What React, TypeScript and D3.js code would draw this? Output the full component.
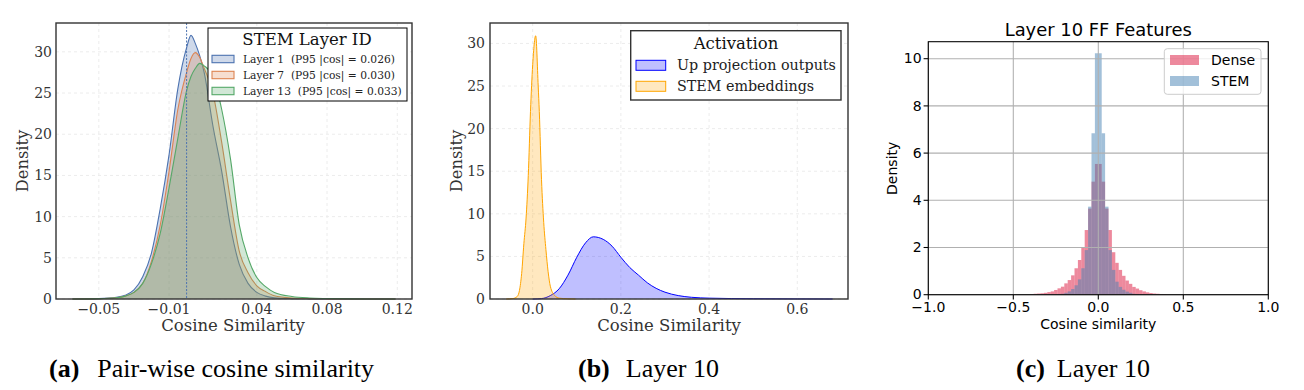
import * as d3 from 'd3';

// ---- (a) pair-wise cosine similarity, one KDE per STEM layer ----
const A_GRID = [-0.065, -0.05, -0.04, -0.035, -0.03, -0.025, -0.02, -0.015, -0.01, -0.005, 0, 0.0025, 0.005, 0.0075, 0.01, 0.015, 0.02, 0.025, 0.03, 0.035, 0.04, 0.045, 0.05, 0.06, 0.07, 0.08, 0.095, 0.119];
const A_LAYER1 = [0, 0.05, 0.2, 0.45, 1.1, 2.7, 5.6, 11, 17.5, 25.5, 30.5, 32, 31, 29.5, 27.5, 21, 15.5, 8.8, 4.2, 1.9, 0.8, 0.35, 0.15, 0.05, 0.02, 0.01, 0.005, 0];
const A_LAYER7 = [0, 0.04, 0.15, 0.35, 0.8, 1.9, 4.6, 9, 15.5, 23, 27.5, 29.2, 29.9, 29.3, 28, 25, 19, 12, 5.8, 3.2, 1.6, 0.9, 0.4, 0.12, 0.05, 0.02, 0, 0];
const A_LAYER13 = [0, 0.04, 0.15, 0.35, 0.8, 1.9, 4.3, 8, 13.5, 19.5, 25.3, 27, 28, 28.6, 28.3, 27, 23, 17, 9, 5, 2.6, 1.5, 0.8, 0.3, 0.12, 0.06, 0.02, 0];
const A_LABELS = ['Layer 1  (P95 |cos| = 0.026)', 'Layer 7  (P95 |cos| = 0.030)', 'Layer 13  (P95 |cos| = 0.033)'];
const A_COLORS = ['#4c72b0', '#dd8452', '#55a868'];
const A_XTICKS = [-0.05, -0.01, 0.04, 0.08, 0.12];
const A_YTICKS = [0, 5, 10, 15, 20, 25, 30];

// ---- (b) layer 10 activations ----
const B_UP_X = [0, 0.02, 0.04, 0.06, 0.08, 0.1, 0.12, 0.1375, 0.16, 0.18, 0.2, 0.22, 0.24, 0.26, 0.28, 0.3, 0.33, 0.36, 0.4, 0.5, 0.6, 0.68];
const B_UP = [0, 0.05, 0.4, 1.2, 2.8, 4.9, 6.6, 7.3, 7.0, 6.2, 4.9, 3.7, 2.8, 1.9, 1.25, 0.8, 0.4, 0.2, 0.1, 0.03, 0.01, 0];
const B_STEM_X = [-0.06, -0.045, -0.035, -0.03, -0.025, -0.02, -0.015, -0.01, -0.005, 0, 0.0068, 0.0125, 0.015, 0.02, 0.025, 0.03, 0.035, 0.04, 0.05, 0.06, 0.08, 0.097];
const B_STEM = [0, 0.05, 0.3, 1.0, 3.0, 6.5, 9.5, 14.5, 22, 27.5, 30.9, 25, 22, 14, 9, 5.8, 3.2, 1.5, 0.4, 0.1, 0.02, 0];
const B_XTICKS = [0, 0.2, 0.4, 0.6];
const B_YTICKS = [0, 5, 10, 15, 20, 25, 30];

// ---- (c) layer 10 FF feature histograms (bins of 0.02 from -0.4) ----
const C_BIN_START = -0.4;
const C_BIN_WIDTH = 0.02;
const C_DENSE = [0.03, 0.04, 0.05, 0.06, 0.08, 0.11, 0.14, 0.2, 0.27, 0.34, 0.48, 0.62, 0.82, 1.12, 1.47, 1.99, 2.74, 3.65, 4.79, 5.54,
  5.54, 4.79, 3.65, 2.74, 1.8, 1.35, 1.05, 0.8, 0.6, 0.46, 0.33, 0.26, 0.19, 0.14, 0.1, 0.07, 0.05, 0.04, 0.03, 0.02];
const C_STEM = [0, 0, 0, 0, 0, 0, 0, 0, 0.02, 0.04, 0.08, 0.14, 0.24, 0.4, 0.65, 1.12, 1.89, 3.73, 6.84, 10.23,
  10.23, 6.84, 3.73, 1.89, 1.05, 0.55, 0.33, 0.21, 0.13, 0.08, 0.04, 0.02, 0, 0, 0, 0, 0, 0, 0, 0];
const C_XTICKS = [-1, -0.5, 0, 0.5, 1];
const C_YTICKS = [0, 2, 4, 6, 8, 10];

const SERIF = "'DejaVu Serif', serif";
const SANS = "'DejaVu Sans', sans-serif";
const CAPTION = "'Liberation Serif', serif";
const INK = '#333';
const GRID = '#ececec';

const fmtMinus = (s: string) => s.replace('-', '\u2212');

const PanelA = () => {
  const box = { l: 56, r: 412, t: 23, b: 299 };
  const x = d3.scaleLinear().domain([-0.0744, 0.1284]).range([box.l, box.r]);
  const y = d3.scaleLinear().domain([0, 33.5]).range([box.b, box.t]);
  const series = [A_LAYER1, A_LAYER7, A_LAYER13];
  const area = d3.area<number>().x((_, i) => x(A_GRID[i])).y0(y(0)).y1(d => y(d)).curve(d3.curveMonotoneX);
  const line = d3.line<number>().x((_, i) => x(A_GRID[i])).y(d => y(d)).curve(d3.curveMonotoneX);
  return (
    <g>
      {A_XTICKS.map(t => (
        <line key={'gx' + t} x1={x(t)} x2={x(t)} y1={box.t} y2={box.b} stroke={GRID} strokeDasharray="3,3" />
      ))}
      {A_YTICKS.map(t => (
        <line key={'gy' + t} x1={box.l} x2={box.r} y1={y(t)} y2={y(t)} stroke={GRID} strokeDasharray="3,3" />
      ))}
      {series.map((s, i) => (
        <g key={i}>
          <path d={area(s) || ''} fill={A_COLORS[i]} fillOpacity={0.27} />
          <path d={line(s) || ''} fill="none" stroke={A_COLORS[i]} strokeWidth={1.1} />
        </g>
      ))}
      <line x1={x(0)} x2={x(0)} y1={box.t} y2={box.b} stroke="#4c72b0" strokeDasharray="2,1.5" strokeWidth={1} />
      <rect x={box.l} y={box.t} width={box.r - box.l} height={box.b - box.t} fill="none" stroke={INK} strokeWidth={1.4} />
      {A_YTICKS.map(t => (
        <text key={'ty' + t} x={52} y={y(t)} dy="0.36em" textAnchor="end" fontFamily={SERIF} fontSize={14} fill={INK}>{t}</text>
      ))}
      {A_XTICKS.map(t => (
        <text key={'tx' + t} x={x(t)} y={313.5} textAnchor="middle" fontFamily={SERIF} fontSize={14} fill={INK}>{fmtMinus(t.toFixed(2))}</text>
      ))}
      <text x={233} y={331} textAnchor="middle" fontFamily={SERIF} fontSize={16.5} fill={INK}>Cosine Similarity</text>
      <text transform="translate(28,161) rotate(-90)" textAnchor="middle" fontFamily={SERIF} fontSize={16.3} fill={INK}>Density</text>
      <g>
        <rect x={208} y={28} width={199} height={73} fill="#fff" stroke="#000" strokeWidth={1} />
        <text x={307} y={45} textAnchor="middle" fontFamily={SERIF} fontSize={16.5} fill="#111">STEM Layer ID</text>
        {A_LABELS.map((lab, i) => (
          <g key={lab}>
            <rect x={212} y={59 + i * 16 - 3.7} width={22} height={7.4} fill={A_COLORS[i]} fillOpacity={0.27} stroke={A_COLORS[i]} strokeWidth={1.1} />
            <text x={243} y={59 + i * 16} dy="0.36em" fontFamily={SERIF} fontSize={10.7} fill="#222" style={{ whiteSpace: 'pre' }}>{lab}</text>
          </g>
        ))}
      </g>
    </g>
  );
};

const PanelB = () => {
  const box = { l: 490, r: 848, t: 23, b: 299 };
  const x = d3.scaleLinear().domain([-0.0968, 0.715]).range([box.l, box.r]);
  const y = d3.scaleLinear().domain([0, 32.4]).range([box.b, box.t]);
  const mk = (xs: number[]) => ({
    area: d3.area<number>().x((_, i) => x(xs[i])).y0(y(0)).y1(d => y(d)).curve(d3.curveMonotoneX),
    line: d3.line<number>().x((_, i) => x(xs[i])).y(d => y(d)).curve(d3.curveMonotoneX),
  });
  const up = mk(B_UP_X);
  const st = mk(B_STEM_X);
  return (
    <g>
      {B_XTICKS.map(t => (
        <line key={'gx' + t} x1={x(t)} x2={x(t)} y1={box.t} y2={box.b} stroke={GRID} strokeDasharray="3,3" />
      ))}
      {B_YTICKS.map(t => (
        <line key={'gy' + t} x1={box.l} x2={box.r} y1={y(t)} y2={y(t)} stroke={GRID} strokeDasharray="3,3" />
      ))}
      <path d={up.area(B_UP) || ''} fill="#0000ff" fillOpacity={0.25} />
      <path d={up.line(B_UP) || ''} fill="none" stroke="#0000ff" strokeWidth={1} />
      <path d={st.area(B_STEM) || ''} fill="#ffa500" fillOpacity={0.25} />
      <path d={st.line(B_STEM) || ''} fill="none" stroke="#ffa500" strokeWidth={1} />
      <rect x={box.l} y={box.t} width={box.r - box.l} height={box.b - box.t} fill="none" stroke={INK} strokeWidth={1.4} />
      {B_YTICKS.map(t => (
        <text key={'ty' + t} x={485} y={y(t)} dy="0.36em" textAnchor="end" fontFamily={SERIF} fontSize={14} fill={INK}>{t}</text>
      ))}
      {B_XTICKS.map(t => (
        <text key={'tx' + t} x={x(t)} y={313.5} textAnchor="middle" fontFamily={SERIF} fontSize={14} fill={INK}>{t.toFixed(1)}</text>
      ))}
      <text x={669} y={331} textAnchor="middle" fontFamily={SERIF} fontSize={16.5} fill={INK}>Cosine Similarity</text>
      <text transform="translate(462,161) rotate(-90)" textAnchor="middle" fontFamily={SERIF} fontSize={16.3} fill={INK}>Density</text>
      <g>
        <rect x={630.7} y={30.7} width={210.3} height={69.3} fill="#fff" stroke={INK} strokeWidth={1.4} />
        <text x={736} y={48.5} textAnchor="middle" fontFamily={SERIF} fontSize={16.5} fill="#111">Activation</text>
        <rect x={636} y={60.3} width={29.7} height={10} fill="#0000ff" fillOpacity={0.25} stroke="#0000ff" strokeWidth={1} />
        <text x={677} y={65.3} dy="0.36em" fontFamily={SERIF} fontSize={14.3} fill="#222">Up projection outputs</text>
        <rect x={636} y={81.3} width={29.7} height={10} fill="#ffa500" fillOpacity={0.25} stroke="#ffa500" strokeWidth={1} />
        <text x={677} y={86.3} dy="0.36em" fontFamily={SERIF} fontSize={14.3} fill="#222">STEM embeddings</text>
      </g>
    </g>
  );
};

const PanelC = () => {
  const box = { l: 928.3, r: 1268.3, t: 41.7, b: 294.7 };
  const x = d3.scaleLinear().domain([-1, 1]).range([box.l, box.r]);
  const y = d3.scaleLinear().domain([0, 10.72]).range([box.b, box.t]);
  const bars = (vals: number[], color: string, key: string) =>
    vals.map((v, i) => {
      const x0 = C_BIN_START + i * C_BIN_WIDTH;
      if (v <= 0) return null;
      return (
        <rect key={key + i} x={x(x0)} y={y(v)} width={x(x0 + C_BIN_WIDTH) - x(x0)} height={y(0) - y(v)} fill={color} fillOpacity={0.5} />
      );
    });
  return (
    <g>
      {bars(C_DENSE, 'crimson', 'd')}
      {bars(C_STEM, 'steelblue', 's')}
      {C_XTICKS.map(t => (
        <line key={'gx' + t} x1={x(t)} x2={x(t)} y1={box.t} y2={box.b} stroke="#b0b0b0" strokeWidth={1.07} />
      ))}
      {C_YTICKS.map(t => (
        <line key={'gy' + t} x1={box.l} x2={box.r} y1={y(t)} y2={y(t)} stroke="#b0b0b0" strokeWidth={1.07} />
      ))}
      <rect x={box.l} y={box.t} width={box.r - box.l} height={box.b - box.t} fill="none" stroke="#000" strokeWidth={1.07} />
      {C_XTICKS.map(t => (
        <g key={'tx' + t}>
          <line x1={x(t)} x2={x(t)} y1={box.b} y2={box.b + 4.7} stroke="#000" strokeWidth={1.07} />
          <text x={x(t)} y={312} textAnchor="middle" fontFamily={SANS} fontSize={14} fill="#000">{fmtMinus(t.toFixed(1))}</text>
        </g>
      ))}
      {C_YTICKS.map(t => (
        <g key={'ty' + t}>
          <line x1={box.l - 4.7} x2={box.l} y1={y(t)} y2={y(t)} stroke="#000" strokeWidth={1.07} />
          <text x={921.7} y={y(t)} dy="0.34em" textAnchor="end" fontFamily={SANS} fontSize={14} fill="#000">{t}</text>
        </g>
      ))}
      <text x={1098.3} y={35.5} textAnchor="middle" fontFamily={SANS} fontSize={17.9} fill="#000">Layer 10 FF Features</text>
      <text x={1098.3} y={328.5} textAnchor="middle" fontFamily={SANS} fontSize={14} fill="#000">Cosine similarity</text>
      <text transform="translate(897,168.3) rotate(-90)" textAnchor="middle" fontFamily={SANS} fontSize={14} fill="#000">Density</text>
      <g>
        <rect x={1164.3} y={48.7} width={96.7} height={45.6} rx={3} fill="#fff" fillOpacity={0.8} stroke="#cccccc" strokeWidth={1} />
        <rect x={1170} y={55} width={29} height={10} fill="crimson" fillOpacity={0.5} />
        <text x={1211} y={60} dy="0.36em" fontFamily={SANS} fontSize={14} fill="#000">Dense</text>
        <rect x={1170} y={76} width={29} height={10} fill="steelblue" fillOpacity={0.5} />
        <text x={1211} y={81} dy="0.36em" fontFamily={SANS} fontSize={14} fill="#000">STEM</text>
      </g>
    </g>
  );
};

const Caption = ({ x, tag, label, gap }: { x: number; tag: string; label: string; gap: number }) => (
  <text x={x} y={377} fontFamily={CAPTION} fontSize={26} fill="#000" style={{ whiteSpace: 'pre' }}>
    <tspan fontWeight="bold">{tag}</tspan>
    <tspan dx={gap}>{label}</tspan>
  </text>
);

export default function App() {
  return (
    <svg width={1304} height={390} style={{ position: 'absolute', left: 0, top: 0, background: '#fff' }}>
      <PanelA />
      <PanelB />
      <PanelC />
      <Caption x={49} tag="(a)" label="Pair-wise cosine similarity" gap={18} />
      <Caption x={578} tag="(b)" label="Layer 10" gap={16} />
      <Caption x={1016} tag="(c)" label="Layer 10" gap={12} />
    </svg>
  );
}
